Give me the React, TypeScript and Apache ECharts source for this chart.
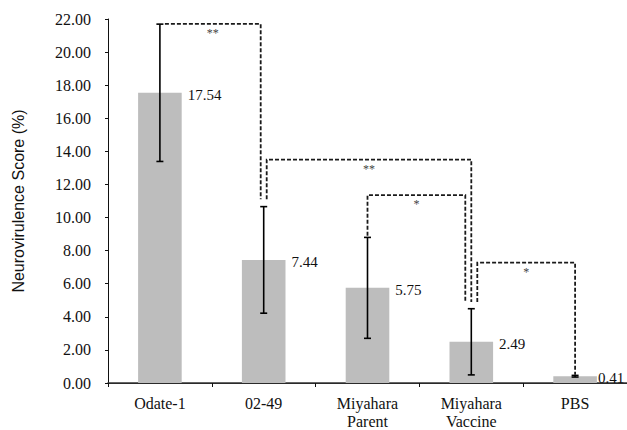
import React, { useEffect, useRef } from "react";
import * as echarts from "echarts";

// ---- data ----
const categories = ["Odate-1", "02-49", "Miyahara\nParent", "Miyahara\nVaccine", "PBS"];
const means = [17.54, 7.44, 5.75, 2.49, 0.41];
const errors = [4.15, 3.22, 3.05, 2.0, 0.05];
const yTicks = { min: 0, max: 22, interval: 2 };

// significance brackets: from category, to category, bracket level, end of left leg, end of right leg, label
const bracketFrom = [0, 1, 2, 3];
const bracketTo = [1, 3, 3, 4];
const bracketLevel = [21.7, 13.5, 11.35, 7.27];
const bracketLeftEnd = [21.7, 11.1, 8.9, 4.9];
const bracketRightEnd = [11.1, 4.9, 4.9, 0.5];
const bracketLabel = ["**", "**", "*", "*"];

// pixel nudges so that legs sitting on the same bar do not overlap (styling only)
const legNudgeLeft = [5, 3, 0, 6];
const legNudgeRight = [-3, 0, -6, 0];

const SERIF = "'Liberation Serif', 'Times New Roman', serif";
const SANS = "'Liberation Sans', Arial, sans-serif";

export default function App() {
  const ref = useRef<HTMLDivElement>(null);

  useEffect(() => {
    if (!ref.current) return;
    const chart = echarts.init(ref.current, undefined, { renderer: "svg" });

    const errorData = means.map((m, i) => [i, m - errors[i], m + errors[i]]);
    const bracketData = bracketFrom.map((f, i) => [
      f,
      bracketTo[i],
      bracketLevel[i],
      bracketLeftEnd[i],
      bracketRightEnd[i],
      i,
    ]);

    const dashStyle = {
      stroke: "#1a1a1a",
      lineWidth: 1.8,
      lineDash: [4, 2],
      fill: null,
    };

    const barData = means.map((m, i) =>
      i === means.length - 1 ? { value: m, label: { offset: [1, 2] } } : m
    );

    chart.setOption({
      animation: false,
      backgroundColor: "#ffffff",
      grid: { left: 108, right: 0, top: 19, bottom: 45 },
      xAxis: [
        {
          type: "category",
          data: categories,
          axisLine: { show: true, lineStyle: { color: "#111", width: 1 } },
          axisTick: { show: true, length: 4, lineStyle: { color: "#111" } },
          axisLabel: {
            fontFamily: SERIF,
            fontSize: 16,
            color: "#111",
            margin: 11,
            lineHeight: 18,
            interval: 0,
          },
        },
        {
          type: "category",
          data: categories,
          position: "top",
          axisLine: { show: true, lineStyle: { color: "#333", width: 1.5 } },
          axisTick: { show: false },
          axisLabel: { show: false },
        },
      ],
      yAxis: [
        {
          type: "value",
          min: yTicks.min,
          max: yTicks.max,
          interval: yTicks.interval,
          name: "Neurovirulence Score (%)",
          nameLocation: "middle",
          nameGap: 82,
          nameTextStyle: { fontFamily: SANS, fontSize: 16, color: "#111" },
          axisLine: { show: true, lineStyle: { color: "#111", width: 1 } },
          axisTick: { show: true, length: 3, lineStyle: { color: "#111" } },
          splitLine: { show: false },
          axisLabel: {
            fontFamily: SERIF,
            fontSize: 16,
            color: "#111",
            margin: 17,
            formatter: (v: number) => v.toFixed(2),
          },
        },
        {
          type: "value",
          min: yTicks.min,
          max: yTicks.max,
          interval: yTicks.interval,
          position: "right",
          axisLine: { show: true, lineStyle: { color: "#cfcfcf", width: 1 } },
          axisTick: { show: false },
          axisLabel: { show: false },
          splitLine: { show: false },
        },
      ],
      series: [
        {
          type: "bar",
          data: barData,
          barWidth: "42%",
          itemStyle: { color: "#bdbdbd" },
          label: {
            show: true,
            position: ["100%", 0],
            offset: [6, 2],
            align: "left",
            verticalAlign: "middle",
            fontFamily: SERIF,
            fontSize: 15,
            color: "#111",
            formatter: (p: any) => Number(p.value).toFixed(2),
          },
          z: 2,
        },
        {
          type: "custom",
          data: errorData,
          encode: { x: 0, y: [1, 2] },
          clip: false,
          z: 4,
          renderItem: (_params: any, api: any) => {
            const x = api.value(0);
            const lo = api.coord([x, api.value(1)]);
            const hi = api.coord([x, api.value(2)]);
            const cap = 3.5;
            const st = { stroke: "#000", lineWidth: 1.6 };
            return {
              type: "group",
              children: [
                { type: "line", shape: { x1: lo[0], y1: lo[1], x2: hi[0], y2: hi[1] }, style: st },
                { type: "line", shape: { x1: lo[0] - cap, y1: lo[1], x2: lo[0] + cap, y2: lo[1] }, style: st },
                { type: "line", shape: { x1: hi[0] - cap, y1: hi[1], x2: hi[0] + cap, y2: hi[1] }, style: st },
              ],
            };
          },
        },
        {
          type: "custom",
          data: bracketData,
          encode: { x: [0, 1], y: [2, 3, 4] },
          clip: false,
          z: 5,
          renderItem: (_params: any, api: any) => {
            const idx = api.value(5);
            const a = api.coord([api.value(0), api.value(2)]);
            const b = api.coord([api.value(1), api.value(2)]);
            const aEnd = api.coord([api.value(0), api.value(3)]);
            const bEnd = api.coord([api.value(1), api.value(4)]);
            const xl = a[0] + legNudgeLeft[idx];
            const xr = b[0] + legNudgeRight[idx];
            const y = a[1];
            return {
              type: "group",
              children: [
                {
                  type: "polyline",
                  shape: {
                    points: [
                      [xl, aEnd[1]],
                      [xl, y],
                      [xr, y],
                      [xr, bEnd[1]],
                    ],
                  },
                  style: dashStyle,
                },
                {
                  type: "text",
                  x: (xl + xr) / 2,
                  y: y + 3,
                  style: {
                    text: bracketLabel[idx],
                    fontFamily: SERIF,
                    fontSize: 12,
                    fill: "#444",
                    align: "center",
                    verticalAlign: "top",
                  },
                },
              ],
            };
          },
        },
      ],
    });

    return () => chart.dispose();
  }, []);

  return <div ref={ref} style={{ width: 627, height: 430, position: "absolute", left: 0, top: 0 }} />;
}
